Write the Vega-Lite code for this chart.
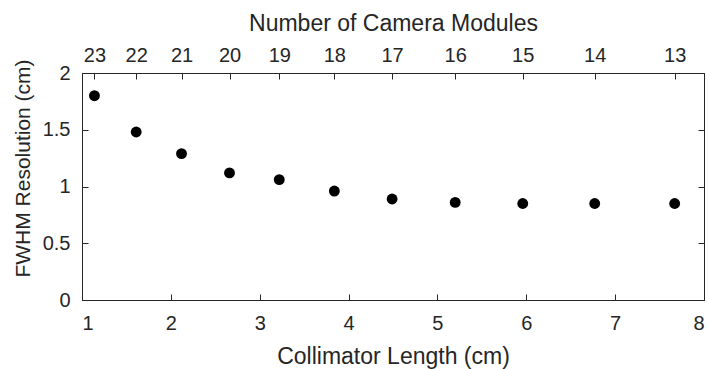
{
  "$schema": "https://vega.github.io/schema/vega-lite/v6.json",
  "width": 622,
  "height": 227,
  "autosize": "none",
  "padding": {"left": 82, "top": 73, "right": 4, "bottom": 69},
  "background": "white",
  "config": {
    "font": "Liberation Sans",
    "view": {"stroke": "#262626", "strokeWidth": 1},
    "axis": {
      "domainColor": "#262626",
      "tickColor": "#262626",
      "labelColor": "#262626",
      "titleColor": "#262626",
      "labelFont": "Liberation Sans",
      "titleFont": "Liberation Sans",
      "labelFontSize": 20,
      "titleFontSize": 23,
      "titleFontWeight": "normal",
      "grid": false,
      "tickSize": -6
    }
  },
  "data": {
    "values": [
      {"length": 1.14, "modules": 23, "fwhm": 1.80},
      {"length": 1.61, "modules": 22, "fwhm": 1.48},
      {"length": 2.12, "modules": 21, "fwhm": 1.29},
      {"length": 2.66, "modules": 20, "fwhm": 1.12},
      {"length": 3.22, "modules": 19, "fwhm": 1.06},
      {"length": 3.84, "modules": 18, "fwhm": 0.96},
      {"length": 4.49, "modules": 17, "fwhm": 0.89},
      {"length": 5.20, "modules": 16, "fwhm": 0.86},
      {"length": 5.96, "modules": 15, "fwhm": 0.85},
      {"length": 6.77, "modules": 14, "fwhm": 0.85},
      {"length": 7.67, "modules": 13, "fwhm": 0.85}
    ]
  },
  "layer": [
    {
      "mark": {"type": "point", "filled": true, "color": "black", "opacity": 1, "size": 118},
      "encoding": {
        "x": {
          "field": "length",
          "type": "quantitative",
          "scale": {"domain": [1, 8], "nice": false, "zero": false},
          "axis": {
            "orient": "bottom",
            "title": "Collimator Length (cm)",
            "values": [1, 2, 3, 4, 5, 6, 7, 8],
            "format": "d",
            "labelPadding": 19,
            "titleBaseline": "alphabetic",
            "titleY": 63
          }
        },
        "y": {
          "field": "fwhm",
          "type": "quantitative",
          "scale": {"domain": [0, 2], "nice": false},
          "axis": {
            "orient": "left",
            "title": "FWHM Resolution (cm)",
            "values": [0, 0.5, 1, 1.5, 2],
            "format": ".1~f",
            "labelPadding": 18,
            "titleFontSize": 21,
            "titleBaseline": "alphabetic",
            "titleX": -53,
            "titleY": 95
          }
        }
      }
    },
    {
      "mark": {"type": "point", "opacity": 0},
      "encoding": {
        "x": {
          "field": "length",
          "type": "quantitative",
          "axis": {
            "orient": "top",
            "title": "Number of Camera Modules",
            "values": [1.14, 1.61, 2.12, 2.66, 3.22, 3.84, 4.49, 5.20, 5.96, 6.77, 7.67],
            "labelExpr": "['23','22','21','20','19','18','17','16','15','14','13'][indexof([1.14, 1.61, 2.12, 2.66, 3.22, 3.84, 4.49, 5.20, 5.96, 6.77, 7.67], datum.value)]",
            "labelPadding": 14,
            "titleBaseline": "alphabetic",
            "titleY": -43
          }
        },
        "y": {
          "field": "fwhm",
          "type": "quantitative",
          "axis": {"orient": "right", "title": null, "labels": false, "values": [0, 0.5, 1, 1.5, 2]}
        }
      }
    }
  ],
  "resolve": {"axis": {"x": "independent", "y": "independent"}}
}
